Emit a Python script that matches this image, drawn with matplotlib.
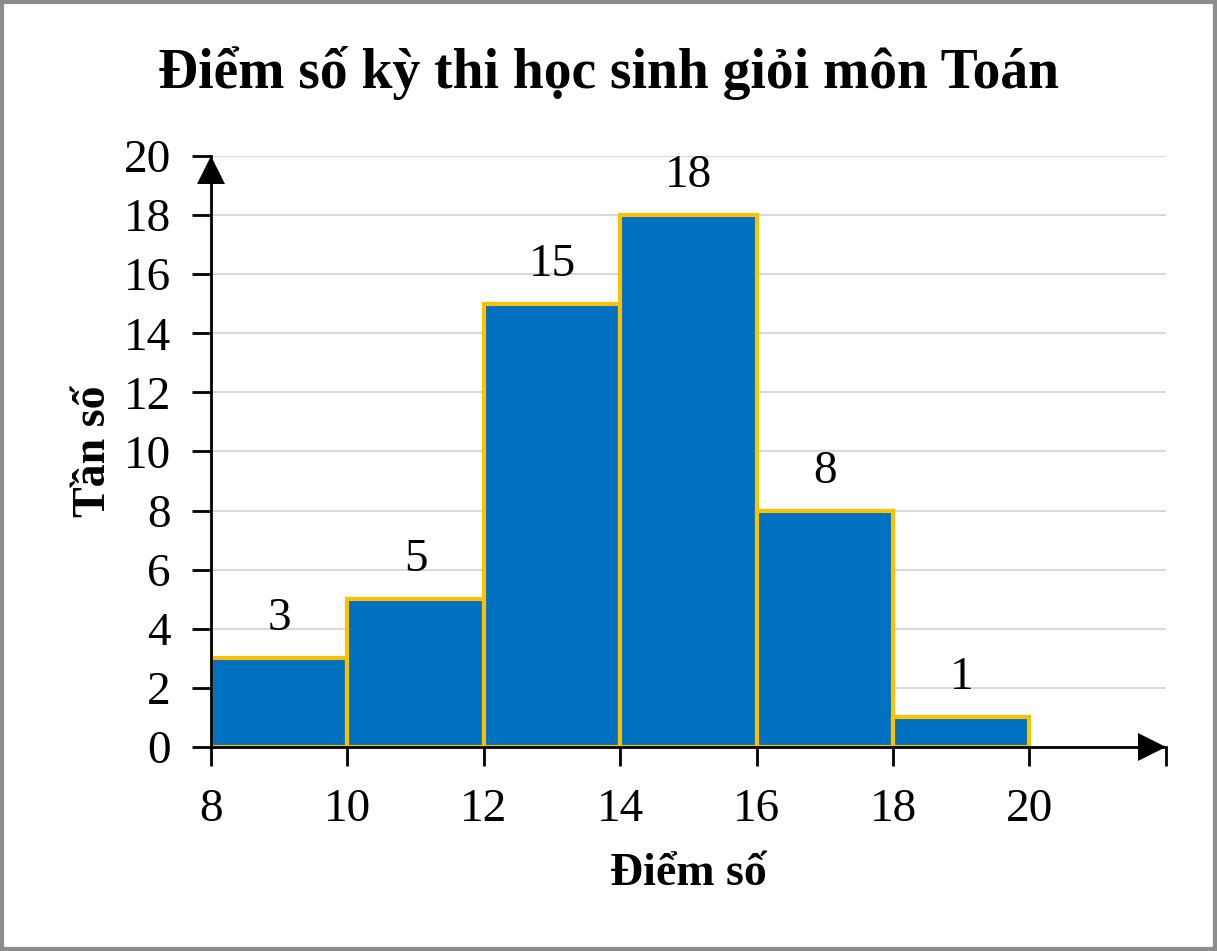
import matplotlib.pyplot as plt
from matplotlib.patches import Rectangle
from matplotlib.transforms import offset_copy

# Dữ liệu biểu đồ
bin_edges = [8, 10, 12, 14, 16, 18, 20]
freqs = [3, 5, 15, 18, 8, 1]
x_ticks = [8, 10, 12, 14, 16, 18, 20]
y_ticks = [0, 2, 4, 6, 8, 10, 12, 14, 16, 18, 20]

plt.rcParams.update({
    "font.family": ["Liberation Serif", "DejaVu Serif"],
    "font.size": 34,
})

fig = plt.figure(figsize=(12.17, 9.51), dpi=100)
ax = fig.add_axes([0.1734, 0.2145, 0.958 - 0.1734, 0.836 - 0.2145])

widths = [b - a for a, b in zip(bin_edges[:-1], bin_edges[1:])]
ax.bar(bin_edges[:-1], freqs, width=widths, align="edge",
       color="#0070C0", edgecolor="#FFC000", linewidth=3, zorder=3)

for left, w, f in zip(bin_edges[:-1], widths, freqs):
    ax.text(left + w / 2, f + 0.95, str(f), ha="center", va="baseline",
            fontsize=34, zorder=4)

ax.set_xlim(8, 22)
ax.set_ylim(0, 20)
ax.set_xticks(x_ticks + [22])
ax.set_xticklabels([str(t) for t in x_ticks] + [""])
ax.set_yticks(y_ticks)
ax.yaxis.grid(True, color="#D9D9D9", linewidth=1.5, zorder=0)
ax.set_axisbelow(True)

for s in ["top", "right"]:
    ax.spines[s].set_visible(False)
for s in ["left", "bottom"]:
    ax.spines[s].set_linewidth(2)
    ax.spines[s].set_zorder(5)

ax.tick_params(axis="y", direction="out", length=14, width=2, pad=15)
ax.tick_params(axis="x", direction="out", length=14, width=2, pad=16)

# mũi tên trục (đầu mũi tên chạm điểm cuối trục)
tr_x = offset_copy(ax.transAxes, fig=fig, x=-10, y=0, units="points")
tr_y = offset_copy(ax.transAxes, fig=fig, x=0, y=-10, units="points")
ax.plot(1, 0, ">k", markersize=20, transform=tr_x, clip_on=False,
        zorder=6, markeredgewidth=0)
ax.plot(0, 1, "^k", markersize=20, transform=tr_y, clip_on=False,
        zorder=6, markeredgewidth=0)

ax.set_xlabel("Điểm số", fontweight="bold", fontsize=33, labelpad=16)
ax.set_ylabel("Tần số", fontweight="bold", fontsize=33, labelpad=6)
fig.text(0.5, 0.923, "Điểm số kỳ thi học sinh giỏi môn Toán",
         ha="center", va="center", fontweight="bold", fontsize=40)

# viền khung hình
fig.patches.append(Rectangle((0.0015, 0.002), 0.997, 0.996,
                             transform=fig.transFigure, fill=False,
                             edgecolor="#8C8C8C", linewidth=3))

fig.savefig("out.png", dpi=100)
